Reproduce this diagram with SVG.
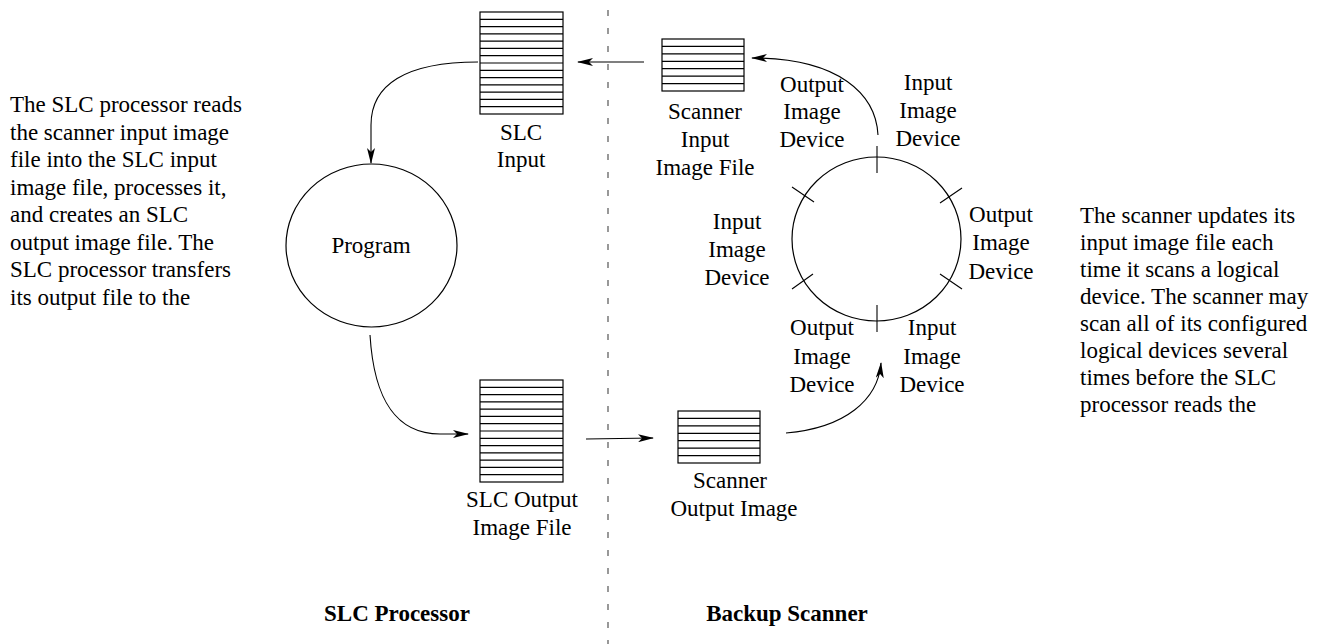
<svg xmlns="http://www.w3.org/2000/svg" width="1328" height="644" viewBox="0 0 1328 644">
  <style>
    text { font-family: "Liberation Serif", "Times New Roman", serif; font-size: 23px; fill: #000; }
    .c { text-anchor: middle; }
    .b { font-weight: bold; }
    .frame { fill: #fff; stroke: #000; stroke-width: 1.2; }
    .stripe { stroke: #000; stroke-width: 1.2; }
    .edge { fill: none; stroke: #000; stroke-width: 1.1; }
    .tick { stroke: #000; stroke-width: 1.1; }
    .divider { stroke: #555; stroke-width: 1.2; stroke-dasharray: 6 12; }
  </style>
  <defs>
    <marker id="arrow" viewBox="0 0 16 8" refX="15" refY="4" markerWidth="16" markerHeight="8" markerUnits="userSpaceOnUse" orient="auto">
      <path d="M0,0 L16,4 L0,8 L4,4 Z" fill="#000"/>
    </marker>
    <!-- 14-stripe file record, 83 x 102 -->
    <g id="file14">
      <rect class="frame" x="0" y="0" width="83" height="102"/>
      <path class="stripe" d="M0,7.3H83M0,14.6H83M0,21.9H83M0,29.1H83M0,36.4H83M0,43.7H83M0,51H83M0,58.3H83M0,65.6H83M0,72.9H83M0,80.1H83M0,87.4H83M0,94.7H83"/>
    </g>
    <!-- 7-stripe file record, 82 x 52 -->
    <g id="file7">
      <rect class="frame" x="0" y="0" width="82" height="52"/>
      <path class="stripe" d="M0,7.4H82M0,14.9H82M0,22.3H82M0,29.7H82M0,37.1H82M0,44.6H82"/>
    </g>
  </defs>

  <!-- boundary between the two systems -->
  <line class="divider" x1="608" y1="10" x2="608" y2="644"/>

  <g id="connectors">
    <path class="edge" d="M644,62 L578,62" marker-end="url(#arrow)"/>
    <path class="edge" d="M478,62 C405,62 371,85 371,125 L371,163" marker-end="url(#arrow)"/>
    <path class="edge" d="M370,335 C374,400 396,434 440,434 L468,434" marker-end="url(#arrow)"/>
    <path class="edge" d="M586,439 L653,438" marker-end="url(#arrow)"/>
    <path class="edge" d="M786,433 C845,428 878,400 881,363" marker-end="url(#arrow)"/>
    <path class="edge" d="M878,135 C876,95 840,58 752,58" marker-end="url(#arrow)"/>
  </g>

  <g id="slc-input">
    <use href="#file14" x="480" y="12"/>
    <text class="c" x="521" y="140">SLC</text>
    <text class="c" x="521" y="167">Input</text>
  </g>

  <g id="program">
    <ellipse class="frame" cx="371.5" cy="245.5" rx="85.5" ry="81.5"/>
    <text class="c" x="371" y="253">Program</text>
  </g>

  <g id="slc-output">
    <use href="#file14" x="480" y="380"/>
    <text class="c" x="522" y="507">SLC Output</text>
    <text class="c" x="522" y="535">Image File</text>
  </g>

  <g id="scanner-input">
    <use href="#file7" x="662" y="39"/>
    <text class="c" x="705" y="119">Scanner</text>
    <text class="c" x="705" y="147">Input</text>
    <text class="c" x="705" y="175">Image File</text>
  </g>

  <g id="scanner-output">
    <use href="#file7" x="678" y="411"/>
    <text class="c" x="730" y="488">Scanner</text>
    <text class="c" x="734" y="516">Output Image</text>
  </g>

  <g id="scan-ring">
    <ellipse class="frame" cx="876.5" cy="239" rx="84.5" ry="82"/>
    <line class="tick" x1="877" y1="146" x2="877" y2="173"/>
    <line class="tick" x1="877" y1="305" x2="877" y2="332"/>
    <line class="tick" x1="792" y1="187" x2="814" y2="202"/>
    <line class="tick" x1="940" y1="203" x2="962" y2="188"/>
    <line class="tick" x1="792" y1="289" x2="813" y2="274"/>
    <line class="tick" x1="940" y1="274" x2="962" y2="289"/>
  </g>

  <g id="device-top-left">
    <text class="c" x="812" y="92">Output</text>
    <text class="c" x="812" y="119">Image</text>
    <text class="c" x="812" y="147">Device</text>
  </g>
  <g id="device-top-right">
    <text class="c" x="928" y="90">Input</text>
    <text class="c" x="928" y="118">Image</text>
    <text class="c" x="928" y="146">Device</text>
  </g>
  <g id="device-left">
    <text class="c" x="737" y="229">Input</text>
    <text class="c" x="737" y="257">Image</text>
    <text class="c" x="737" y="285">Device</text>
  </g>
  <g id="device-right">
    <text class="c" x="1001" y="222">Output</text>
    <text class="c" x="1001" y="250">Image</text>
    <text class="c" x="1001" y="279">Device</text>
  </g>
  <g id="device-bottom-left">
    <text class="c" x="822" y="335">Output</text>
    <text class="c" x="822" y="364">Image</text>
    <text class="c" x="822" y="392">Device</text>
  </g>
  <g id="device-bottom-right">
    <text class="c" x="932" y="335">Input</text>
    <text class="c" x="932" y="364">Image</text>
    <text class="c" x="932" y="392">Device</text>
  </g>

  <g id="note-left">
    <text x="10" y="112">The SLC processor reads</text>
    <text x="10" y="139.5">the scanner input image</text>
    <text x="10" y="167">file into the SLC input</text>
    <text x="10" y="194.5">image file, processes it,</text>
    <text x="10" y="222">and creates an SLC</text>
    <text x="10" y="249.5">output image file. The</text>
    <text x="10" y="277">SLC processor transfers</text>
    <text x="10" y="304.5">its output file to the</text>
  </g>

  <g id="note-right">
    <text x="1080" y="223">The scanner updates its</text>
    <text x="1080" y="250">input image file each</text>
    <text x="1080" y="277">time it scans a logical</text>
    <text x="1080" y="304">device. The scanner may</text>
    <text x="1080" y="331">scan all of its configured</text>
    <text x="1080" y="358">logical devices several</text>
    <text x="1080" y="385">times before the SLC</text>
    <text x="1080" y="412">processor reads the</text>
  </g>

  <g id="captions">
    <text class="c b" x="397" y="621">SLC Processor</text>
    <text class="c b" x="787" y="621">Backup Scanner</text>
  </g>
</svg>
